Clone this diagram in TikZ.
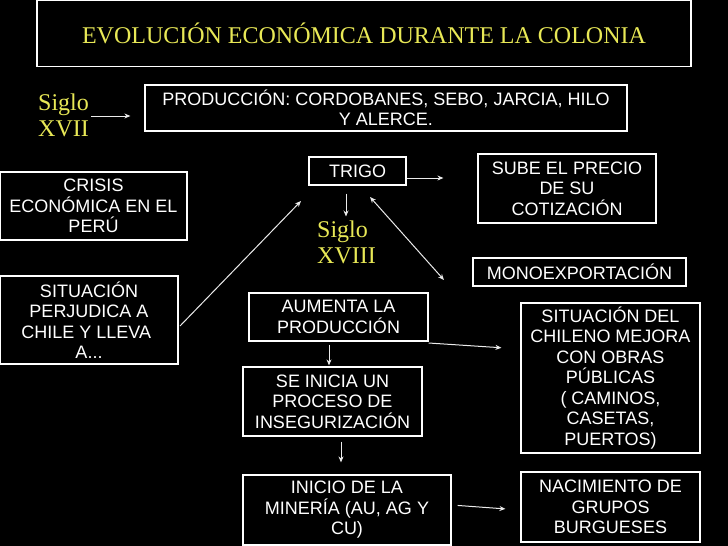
\documentclass[tikz,border=0pt]{standalone}
\usepackage{fontspec}
\setmainfont{Liberation Sans}
\newfontfamily\tnr{Liberation Serif}
\usetikzlibrary{arrows.meta}
\definecolor{yel}{RGB}{232,232,86}
\begin{document}
\begin{tikzpicture}[x=1pt,y=-1pt,
  box/.style={draw=white, line width=1.2pt, fill=black, text=white, inner sep=0pt,
    align=center, font=\fontsize{18}{20.5}\selectfont},
  sig/.style={text=yel, inner sep=0pt, align=left, anchor=north west,
    font=\tnr\fontsize{24}{26.5}\selectfont},
  arr/.style={draw=white!92!black, line width=1pt, -{Stealth[length=6pt,width=5pt]}},
  darr/.style={draw=white!92!black, line width=1pt, {Stealth[length=6pt,width=5pt,open]}-{Stealth[length=6pt,width=5pt,open]}}]
\fill[black] (0,0) rectangle (728,546);
\useasboundingbox (0,0) rectangle (728,546);

% boxes
\node[box, minimum width=654, minimum height=66, text=yel, font=\tnr\fontsize{24}{27}\selectfont] (title) at (364,33.5) {EVOLUCIÓN ECONÓMICA DURANTE LA COLONIA};
\node[box, minimum width=482, minimum height=46] (prod) at (386,108) {PRODUCCIÓN: CORDOBANES, SEBO, JARCIA, HILO\\Y ALERCE.};
\node[box, minimum width=187, minimum height=68] (crisis) at (93.5,206) {CRISIS\\ECONÓMICA EN EL\\PERÚ};
\node[box, minimum width=178, minimum height=88] (sit) at (89,320) {SITUACIÓN\\PERJUDICA A\\CHILE Y LLEVA\kern0.3em\\A...};
\node[box, minimum width=97, minimum height=28] (trigo) at (357.5,171) {TRIGO};
\node[box, minimum width=178, minimum height=69] (sube) at (567,188.5) {SUBE EL PRECIO\\DE SU\\COTIZACIÓN};
\node[box, minimum width=213, minimum height=28] (mono) at (579.5,272) {MONOEXPORTACIÓN};
\node[box, minimum width=179, minimum height=48] (aumenta) at (338.5,317) {AUMENTA LA\\PRODUCCIÓN};
\node[box, minimum width=179, minimum height=69] (seinicia) at (332.5,401.5) {SE INICIA UN\\PROCESO DE\\INSEGURIZACIÓN};
\node[box, minimum width=208, minimum height=70] (inicio) at (347,510) {INICIO DE LA\\MINERÍA (AU, AG Y\\CU)};
\node[box, minimum width=179, minimum height=150] (chileno) at (610.5,378) {SITUACIÓN DEL\\CHILENO MEJORA\\CON OBRAS\\PÚBLICAS\\( CAMINOS,\\CASETAS,\\PUERTOS)};
\node[box, minimum width=179, minimum height=70] (nac) at (610.5,507) {NACIMIENTO DE\\GRUPOS\\BURGUESES};

% century labels
\node[sig] (s17) at (38,93.5) {Siglo\\XVII};
\node[sig, font=\tnr\fontsize{24}{26}\selectfont] (s18) at (317,220.5) {Siglo\\XVIII};

% connector end points
\coordinate (p17) at (91,116);
\coordinate (pSit) at (180,326);
\coordinate (pTr) at (301,201);
\coordinate (pD1) at (370,197);
\coordinate (pD2) at (444,280);

% connectors
\draw[arr, shorten >=14pt] (p17) -- (p17 -| prod.west);
\draw[arr, shorten >=34pt] ([yshift=-7pt]trigo.east) -- ([yshift=-7pt]trigo.east -| sube.west);
\draw[arr, shorten <=8pt, shorten >=4pt] ([xshift=-11.5pt]trigo.south) -- ([xshift=-11.5pt]trigo.south |- s18.north);
\draw[arr] (pSit) -- (pTr);
\draw[darr] (pD1) -- (pD2);
\draw[arr, shorten <=3pt, shorten >=1pt] ([xshift=-9.5pt]aumenta.south) -- ([xshift=-9.5pt]aumenta.south |- seinicia.north);
\draw[arr, shorten <=5pt, shorten >=12pt] ([xshift=8.5pt]seinicia.south) -- ([xshift=8.5pt]seinicia.south |- inicio.north);
\draw[arr, shorten >=19pt] ([yshift=-26pt]aumenta.east) -- ([yshift=-32pt,xshift=0pt]aumenta.east -| chileno.west);
\draw[arr, shorten <=6pt, shorten >=15pt] ([yshift=5pt]inicio.east) -- ([yshift=0pt]inicio.east -| nac.west);
\end{tikzpicture}
\end{document}
